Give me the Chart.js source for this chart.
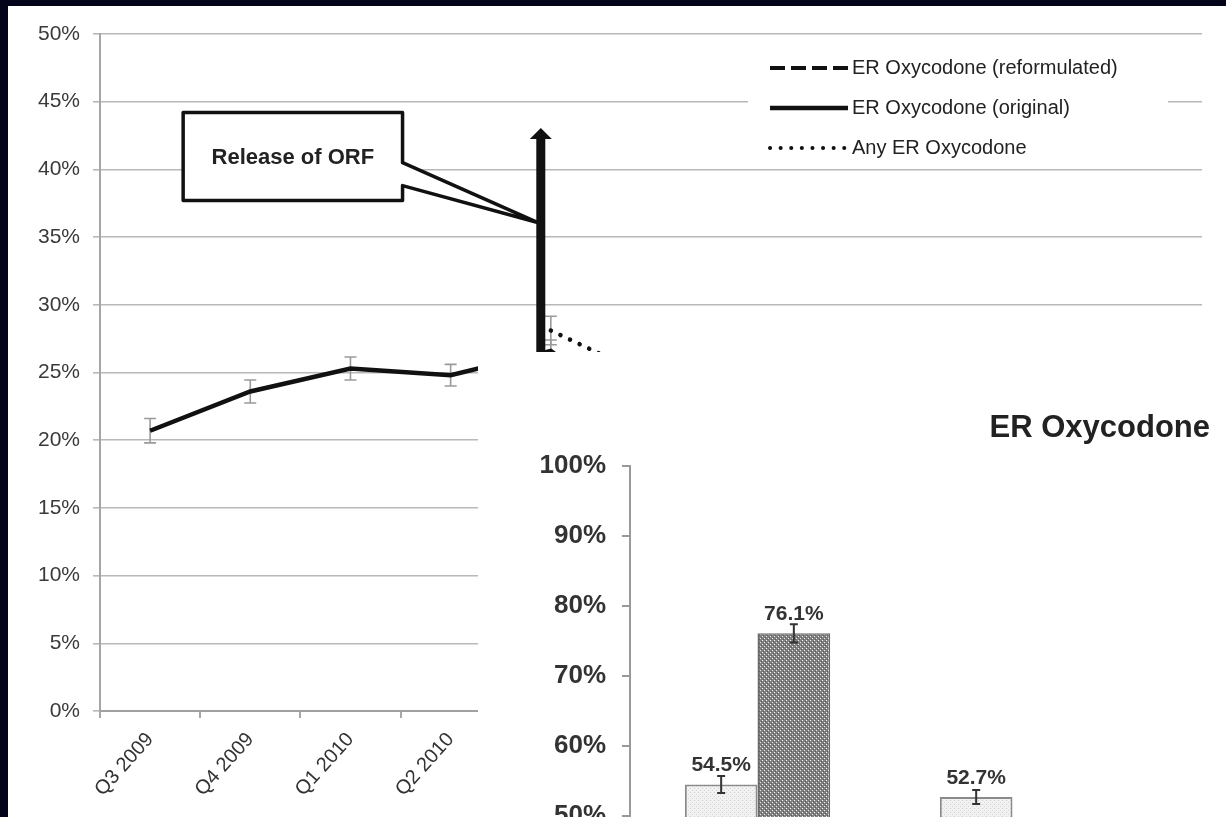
<!DOCTYPE html>
<html>
<head>
<meta charset="utf-8">
<title>ER Oxycodone</title>
<script src="https://cdn.jsdelivr.net/npm/chart.js@4.4.1/dist/chart.umd.min.js"></script>
<style>
  html, body { margin: 0; padding: 0; }
  body {
    width: 1226px; height: 817px; overflow: hidden; position: relative;
    background: #03031a; font-family: "Liberation Sans", Arial, sans-serif;
  }
  #panel { position: absolute; left: 8px; top: 6px; width: 1218px; height: 811px; background: #fff; overflow: hidden; }
  #mainChart { position: absolute; left: 0; top: 0; }
  #insetChart { position: absolute; left: 470px; top: 346px; background: #fff; }
</style>
</head>
<body>
<div id="panel">
  <canvas id="mainChart" width="1218" height="811"></canvas>
  <canvas id="insetChart" width="756" height="850"></canvas>
</div>
<script>
// Main chart data (quarterly share, %)
const quarters = ['Q3 2009', 'Q4 2009', 'Q1 2010', 'Q2 2010', 'Q3 2010', 'Q4 2010',
                  'Q1 2011', 'Q2 2011', 'Q3 2011', 'Q4 2011', 'Q1 2012'];
const reformulatedPct = [null, null, null, null, null, null, null, null, null, null, null];
const originalPct = [20.7, 23.6, 25.3, 24.8, 26.6, 21.0, null, null, null, null, null];
const originalErr = [0.9, 0.85, 0.85, 0.8, 0.8, null, null, null, null, null, null];
const anyPct = [null, null, null, null, 28.1, 24.6, null, null, null, null, null];
const anyErr = [null, null, null, null, 1.05, null, null, null, null, null, null];
const mainTicks = [0, 5, 10, 15, 20, 25, 30, 35, 40, 45, 50];

// Inset bar chart data (%)
const insetGroups = ['', ''];
const insetLightPct = [54.5, 52.7];
const insetLightErr = [1.2, 1.0];
const insetDarkPct = [76.1, null];
const insetDarkErr = [1.3, null];
const insetTicks = [0, 10, 20, 30, 40, 50, 60, 70, 80, 90, 100];

const FONT = '"Liberation Sans", Arial, sans-serif';

// error bars for any dataset that carries an errorBars array
const errorBarPlugin = {
    id: 'errorBars',
    beforeDatasetsDraw(chart, args, opts) {
        if (opts.layer !== 'before') return;
        drawErrors(chart, opts);
    },
    afterDatasetsDraw(chart, args, opts) {
        if (opts.layer !== 'after') return;
        drawErrors(chart, opts);
    }
};

function drawErrors(chart, opts) {
    const ctx = chart.ctx;
    const y = chart.scales.y;
    ctx.save();
    ctx.strokeStyle = opts.color;
    ctx.lineWidth = opts.width;
    chart.data.datasets.forEach((ds, i) => {
        if (!ds.errorBars) return;
        const meta = chart.getDatasetMeta(i);
        meta.data.forEach((el, j) => {
            const v = ds.data[j], e = ds.errorBars[j];
            if (v == null || e == null) return;
            const x = el.x;
            const top = y.getPixelForValue(v + e);
            const bot = y.getPixelForValue(v - e);
            ctx.beginPath();
            ctx.moveTo(x, top); ctx.lineTo(x, bot);
            ctx.moveTo(x - opts.cap, top); ctx.lineTo(x + opts.cap, top);
            ctx.moveTo(x - opts.cap, bot); ctx.lineTo(x + opts.cap, bot);
            ctx.stroke();
        });
    });
    ctx.restore();
}

// callout "Release of ORF" and the big arrow, placed in data units
const releaseNote = {
    text: 'Release of ORF',
    box: { x0: 0.33, x1: 2.52, yTop: 44.2, yBottom: 37.7 },
    notch: { yUpper: 40.5, yLower: 38.8 },
    tip: { x: 3.86, y: 36.1 },
    arrow: { x: 3.9, yFrom: 0, yTo: 43.05 }
};

const calloutPlugin = {
    id: 'callout',
    afterDatasetsDraw(chart) {
        const ctx = chart.ctx;
        const xs = chart.scales.x, ys = chart.scales.y;
        const n = releaseNote;
        const X = v => xs.getPixelForValue(v);
        const Y = v => ys.getPixelForValue(v);
        ctx.save();

        // arrow
        const ax = X(n.arrow.x);
        const aTop = Y(n.arrow.yTo);
        ctx.fillStyle = '#111';
        ctx.fillRect(ax - 4.5, aTop + 8, 9, Y(n.arrow.yFrom) - aTop - 8);
        ctx.beginPath();
        ctx.moveTo(ax, aTop);
        ctx.lineTo(ax + 11, aTop + 11);
        ctx.lineTo(ax - 11, aTop + 11);
        ctx.closePath();
        ctx.fill();

        // callout box
        const bx0 = X(n.box.x0), bx1 = X(n.box.x1);
        const by0 = Y(n.box.yTop), by1 = Y(n.box.yBottom);
        ctx.beginPath();
        ctx.moveTo(bx0, by0);
        ctx.lineTo(bx1, by0);
        ctx.lineTo(bx1, Y(n.notch.yUpper));
        ctx.lineTo(X(n.tip.x), Y(n.tip.y));
        ctx.lineTo(bx1, Y(n.notch.yLower));
        ctx.lineTo(bx1, by1);
        ctx.lineTo(bx0, by1);
        ctx.closePath();
        ctx.fillStyle = '#fff';
        ctx.fill();
        ctx.lineWidth = 3.5;
        ctx.lineJoin = 'round';
        ctx.strokeStyle = '#111';
        ctx.stroke();

        ctx.fillStyle = '#222';
        ctx.font = 'bold 22px ' + FONT;
        ctx.textAlign = 'center';
        ctx.textBaseline = 'middle';
        ctx.fillText(n.text, (bx0 + bx1) / 2, (by0 + by1) / 2 + 1);
        ctx.restore();
    }
};

// legend drawn inside the plot, top right, on a white patch
const innerLegendPlugin = {
    id: 'innerLegend',
    afterDraw(chart, args, opts) {
        const ctx = chart.ctx;
        ctx.save();
        ctx.fillStyle = '#fff';
        ctx.fillRect(opts.x - 22, opts.y - 20, 420, 114);
        ctx.font = '20px ' + FONT;
        ctx.textBaseline = 'middle';
        ctx.fillStyle = '#222';
        chart.data.datasets.forEach((ds, i) => {
            const ry = opts.y + i * opts.rowGap;
            ctx.strokeStyle = '#111';
            ctx.lineWidth = ds.legendWidth || ds.borderWidth;
            ctx.setLineDash(ds.borderDash || []);
            ctx.lineCap = ds.borderCapStyle || 'butt';
            ctx.beginPath();
            ctx.moveTo(opts.x, ry);
            ctx.lineTo(opts.x + opts.sample, ry);
            ctx.stroke();
            ctx.setLineDash([]);
            ctx.fillText(ds.label, opts.x + opts.sample + 4, ry);
        });
        ctx.restore();
    }
};

new Chart(document.getElementById('mainChart'), {
    type: 'line',
    data: {
        labels: quarters,
        datasets: [
            {
                label: 'ER Oxycodone (reformulated)',
                data: reformulatedPct,
                borderColor: '#111',
                borderWidth: 4,
                borderDash: [15, 6],
                pointRadius: 0
            },
            {
                label: 'ER Oxycodone (original)',
                data: originalPct,
                errorBars: originalErr,
                borderColor: '#111',
                borderWidth: 4.5,
                pointRadius: 0
            },
            {
                label: 'Any ER Oxycodone',
                data: anyPct,
                errorBars: anyErr,
                borderColor: '#111',
                borderWidth: 4.5,
                legendWidth: 4,
                borderDash: [0.1, 10.5],
                borderCapStyle: 'round',
                pointRadius: 0
            }
        ]
    },
    options: {
        responsive: false,
        animation: false,
        layout: { padding: { top: 28, right: 24, left: 0, bottom: 0 } },
        plugins: {
            legend: { display: false },
            tooltip: { enabled: false },
            errorBars: { layer: 'before', color: '#9a9a9a', width: 1.6, cap: 6 },
            innerLegend: { x: 762, y: 62, rowGap: 40, sample: 78 }
        },
        scales: {
            x: {
                offset: true,
                grid: { drawOnChartArea: false, offset: true, tickLength: 7, color: '#a8a8a8', lineWidth: 2 },
                border: { color: '#a0a0a0', width: 2 },
                ticks: {
                    color: '#333', font: { family: FONT, size: 20 },
                    maxRotation: 48, minRotation: 48, padding: 10, autoSkip: false
                },
                afterFit: scale => { scale.height = 106; }
            },
            y: {
                min: 0, max: 50,
                afterBuildTicks: scale => { scale.ticks = mainTicks.map(v => ({ value: v })); },
                grid: { color: '#b8b8b8', lineWidth: 1.6, tickLength: 7 },
                border: { color: '#a6a6a6', width: 2 },
                ticks: {
                    color: '#3a3a3a', font: { family: FONT, size: 21 }, padding: 13,
                    callback: v => v + '%'
                },
                afterFit: scale => { scale.width = 92; }
            }
        }
    },
    plugins: [errorBarPlugin, calloutPlugin, innerLegendPlugin]
});

// inset bar chart
function makePattern(bg, dots, size) {
    const c = document.createElement('canvas');
    c.width = c.height = size;
    const g = c.getContext('2d');
    g.fillStyle = bg;
    g.fillRect(0, 0, size, size);
    dots.forEach(d => { g.fillStyle = d[2]; g.fillRect(d[0], d[1], 1, 1); });
    return g.createPattern(c, 'repeat');
}

const lightFill = makePattern('#f1f1f1', [[0, 0, '#cfcfcf'], [2, 2, '#d8d8d8']], 4);
const darkFill = makePattern('#808080', [[0, 0, '#f4f4f4'], [2, 2, '#ececec'], [1, 3, '#5a5a5a'], [3, 1, '#5a5a5a']], 4);

const insetTitlePlugin = {
    id: 'insetTitle',
    afterDraw(chart) {
        const ctx = chart.ctx;
        ctx.save();
        ctx.font = 'bold 31px ' + FONT;
        ctx.fillStyle = '#222';
        ctx.textAlign = 'right';
        ctx.textBaseline = 'middle';
        ctx.fillText('ER Oxycodone', 732, 76);
        ctx.restore();
    }
};

const barLabelPlugin = {
    id: 'barLabels',
    afterDatasetsDraw(chart) {
        const ctx = chart.ctx;
        ctx.save();
        ctx.font = 'bold 21px ' + FONT;
        ctx.fillStyle = '#333';
        ctx.textAlign = 'center';
        ctx.textBaseline = 'middle';
        chart.data.datasets.forEach((ds, i) => {
            chart.getDatasetMeta(i).data.forEach((bar, j) => {
                const v = ds.data[j];
                if (v == null) return;
                ctx.fillText(v.toFixed(1) + '%', bar.x, bar.y - 19);
            });
        });
        ctx.restore();
    }
};

new Chart(document.getElementById('insetChart'), {
    type: 'bar',
    data: {
        labels: insetGroups,
        datasets: [
            {
                data: insetLightPct,
                errorBars: insetLightErr,
                backgroundColor: lightFill,
                borderColor: '#8a8a8a',
                borderWidth: 2,
                borderSkipped: 'bottom',
                categoryPercentage: 0.57,
                barPercentage: 1.0
            },
            {
                data: insetDarkPct,
                errorBars: insetDarkErr,
                backgroundColor: darkFill,
                borderColor: '#6a6a6a',
                borderWidth: 1.5,
                borderSkipped: 'bottom',
                categoryPercentage: 0.57,
                barPercentage: 1.0
            }
        ]
    },
    options: {
        responsive: false,
        animation: false,
        layout: { padding: { top: 114, right: 94, bottom: 36, left: 0 } },
        plugins: {
            legend: { display: false },
            tooltip: { enabled: false },
            errorBars: { layer: 'after', color: '#333', width: 2, cap: 4 }
        },
        scales: {
            x: { display: false },
            y: {
                min: 0, max: 100,
                afterBuildTicks: scale => { scale.ticks = insetTicks.map(v => ({ value: v })); },
                grid: { drawOnChartArea: false, tickLength: 8, color: '#999', lineWidth: 2 },
                border: { color: '#999', width: 2 },
                ticks: {
                    color: '#333', font: { family: FONT, size: 26, weight: 'bold' }, padding: 16,
                    callback: v => v + '%'
                },
                afterFit: scale => { scale.width = 152; }
            }
        }
    },
    plugins: [errorBarPlugin, barLabelPlugin, insetTitlePlugin]
});
</script>
</body>
</html>
